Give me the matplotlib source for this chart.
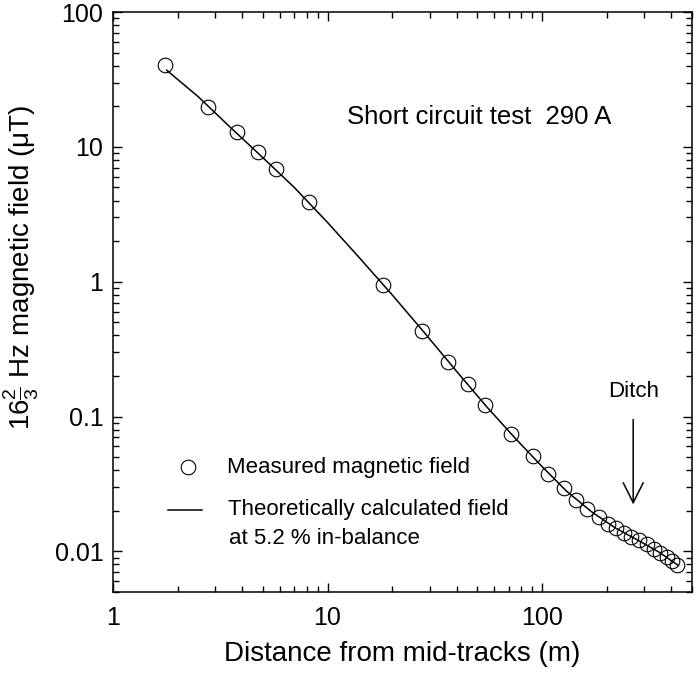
import numpy as np
import matplotlib
matplotlib.use("Agg")
import matplotlib.pyplot as plt

plt.rcParams['font.family'] = ['Liberation Sans', 'DejaVu Sans']
plt.rcParams['mathtext.fontset'] = 'custom'
plt.rcParams['mathtext.rm'] = 'Liberation Sans'
plt.rcParams['mathtext.it'] = 'Liberation Sans:italic'

# measured field vs distance (m, uT)
dist_meas = [1.75, 2.77, 3.78, 4.76, 5.76, 8.21, 18.2, 27.7, 36.6, 45.1, 54.3,
             71.8, 90.3, 107, 126, 144, 162, 184, 203, 222, 240, 259, 282,
             308, 331, 356, 382, 405, 425]
field_meas = [40.5, 19.9, 12.8, 9.14, 6.84, 3.89, 0.95, 0.434, 0.255, 0.173,
              0.121, 0.0745, 0.0508, 0.0377, 0.0293, 0.024, 0.0207, 0.0181,
              0.0161, 0.0148, 0.0137, 0.0128, 0.0121, 0.0113, 0.0105, 0.0098,
              0.0091, 0.0085, 0.0079]

# theoretical curve (5.2 % in-balance)
dist_theo = [1.78, 2.5, 3.5, 5, 7, 10, 14, 20, 28, 40, 55, 75, 100, 130, 170,
             220, 280, 350, 430]
field_theo = [37.0, 23.5, 14.1, 8.3, 5.0, 2.75, 1.52, 0.80, 0.427, 0.216,
              0.119, 0.069, 0.0426, 0.028, 0.0197, 0.0149, 0.0121, 0.0099,
              0.0079]

W, H = 695, 674
fig = plt.figure(figsize=(W / 100, H / 100), dpi=100)
ax = fig.add_axes([113 / W, (H - 592) / H, 579 / W, 580 / H])

ax.plot(dist_theo, field_theo, color='black', lw=1.1)
ax.plot(dist_meas, field_meas, 'o', mfc='none', mec='black', ms=10.5, mew=0.8)

ax.set_xscale('log')
ax.set_yscale('log')
ax.set_xlim(1, 500)
ax.set_ylim(0.005, 100)

ax.xaxis.set_major_formatter(matplotlib.ticker.FuncFormatter(lambda v, p: '%g' % v))
ax.yaxis.set_major_formatter(matplotlib.ticker.FuncFormatter(lambda v, p: '%g' % v))
ax.tick_params(which='both', direction='in', top=True, right=True, width=1)
ax.tick_params(which='major', length=6.5, labelsize=18)
ax.tick_params(which='minor', length=4)
ax.tick_params(axis='x', which='major', pad=10)
ax.tick_params(axis='y', which='major', pad=7)
for s in ax.spines.values():
    s.set_linewidth(1.1)

ax.set_xlabel('Distance from mid-tracks (m)', fontsize=20, labelpad=8)
ax.set_ylabel(r'$16\frac{2}{3}$ Hz magnetic field (μT)', fontsize=20)
ax.yaxis.set_label_coords(-0.125, 0.56)

ax.text(12.3, 16.7, 'Short circuit test  290 A', fontsize=18.5, va='center')

# ditch marker
ax.text(266, 0.153, 'Ditch', fontsize=16, ha='center', va='center')
ax.annotate('', xy=(266, 0.0223), xytext=(266, 0.095),
            arrowprops=dict(arrowstyle='->', color='black', lw=1.1,
                            mutation_scale=36, shrinkA=0, shrinkB=0))

# legend drawn by hand so the curve sample sits on the first text line
ax.plot([0.1295], [0.2155], 'o', mfc='none', mec='black', ms=10.5, mew=0.8,
        transform=ax.transAxes, clip_on=False)
ax.text(0.197, 0.2155, 'Measured magnetic field', fontsize=16, va='center',
        transform=ax.transAxes)
ax.plot([0.095, 0.154], [0.1414, 0.1414], color='black', lw=1.1,
        transform=ax.transAxes)
ax.text(0.199, 0.1414, 'Theoretically calculated field', fontsize=16,
        va='center', transform=ax.transAxes)
ax.text(0.2, 0.093, 'at 5.2 % in-balance', fontsize=16, va='center',
        transform=ax.transAxes)

fig.savefig('out.png', dpi=100)
